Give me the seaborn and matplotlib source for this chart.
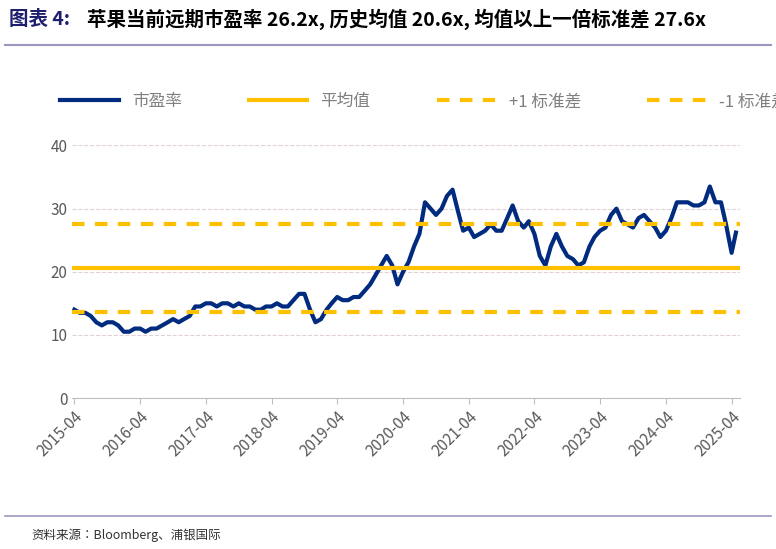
import numpy as np
import pandas as pd
import matplotlib
matplotlib.use('Agg')
import matplotlib.pyplot as plt
from matplotlib import font_manager
import seaborn as sns

# 找一个可用的中文字体
names = {f.name for f in font_manager.fontManager.ttflist}
cjk = [n for n in ['Noto Sans CJK SC', 'Noto Sans CJK JP', 'Noto Sans CJK TC', 'Noto Sans CJK KR'] if n in names]
plt.rcParams['font.family'] = 'sans-serif'
plt.rcParams['font.sans-serif'] = cjk + ['DejaVu Sans']
plt.rcParams['axes.unicode_minus'] = False

# 月度远期市盈率（2015-04 起）
pe_values = [
    14, 13.5, 13.5, 13, 12, 11.5, 12, 12, 11.5,
    10.5, 10.5, 11, 11, 10.5, 11, 11, 11.5, 12, 12.5, 12, 12.5,
    13, 14.5, 14.5, 15, 15, 14.5, 15, 15, 14.5, 15, 14.5, 14.5,
    14, 14, 14.5, 14.5, 15, 14.5, 14.5, 15.5, 16.5, 16.5, 14, 12,
    12.5, 14, 15, 16, 15.5, 15.5, 16, 16, 17, 18, 19.5, 21,
    22.5, 21, 18, 20, 21.5, 24, 26, 31, 30, 29, 30, 32,
    33, 29.5, 26.5, 27, 25.5, 26, 26.5, 27.5, 26.5, 26.5, 28.5, 30.5,
    28, 27, 28, 26, 22.5, 21, 24, 26, 24, 22.5, 22, 21,
    21.5, 24, 25.5, 26.5, 27, 29, 30, 28, 27.5, 27, 28.5, 29,
    28, 27, 25.5, 26.5, 28.5, 31, 31, 31, 30.5, 30.5, 31, 33.5,
    31, 31, 27.5, 23, 26.2,
]
mean_pe = 20.6
plus_std = 27.6
minus_std = 13.6
tick_labels = ['2015-04', '2016-04', '2017-04', '2018-04', '2019-04', '2020-04',
               '2021-04', '2022-04', '2023-04', '2024-04', '2025-04']

dates = list(pd.date_range('2015-04-01', periods=len(pe_values) - 1, freq='MS'))
dates.append(pd.Timestamp('2025-04-25'))
df = pd.DataFrame({'date': dates, 'pe': pe_values})

navy = '#002B7F'
gold = '#FFC000'

fig = plt.figure(figsize=(7.76, 5.49), dpi=100)
ax = fig.add_axes([0.093, 0.275, 0.86, 0.46])

sns.lineplot(data=df, x='date', y='pe', color=navy, linewidth=3, ax=ax, label='市盈率')
ax.axhline(mean_pe, color=gold, linewidth=3, label='平均值')
ax.axhline(plus_std, color=gold, linewidth=3, linestyle=(0, (3, 2.5)), label='+1 标准差')
ax.axhline(minus_std, color=gold, linewidth=3, linestyle=(0, (3, 2.5)), label='-1 标准差')

ax.set_ylim(0, 40)
ax.set_yticks([0, 10, 20, 30, 40])
ax.set_xlim(pd.Timestamp('2015-03-20'), pd.Timestamp('2025-05-15'))
ax.set_xticks([pd.Timestamp(t + '-01') for t in tick_labels])
ax.set_xticklabels(tick_labels, rotation=45, ha='right', rotation_mode='anchor')
ax.tick_params(axis='both', labelsize=11, colors='#595959', length=0)
ax.tick_params(axis='x', length=4, color='#BFBFBF')
ax.grid(axis='y', color='#E0D0D8', linestyle='--', linewidth=0.8)
ax.set_axisbelow(True)
for s in ['top', 'right', 'left']:
    ax.spines[s].set_visible(False)
ax.spines['bottom'].set_color('#BFBFBF')
ax.set_xlabel('')
ax.set_ylabel('')

ax.legend(loc='lower left', bbox_to_anchor=(-0.04, 1.08), ncol=4, frameon=False,
          fontsize=12, handlelength=3.5, columnspacing=4, labelcolor='#7F7F7F')

fig.text(0.012, 0.965, '图表 4:', color='#1F1F6E', fontsize=14, fontweight='bold', va='center')
fig.text(0.112, 0.965, '苹果当前远期市盈率 26.2x, 历史均值 20.6x, 均值以上一倍标准差 27.6x',
         color='black', fontsize=14, fontweight='bold', va='center')
fig.add_artist(plt.Line2D([0.006, 0.994], [0.918, 0.918], color='#9A98BE', linewidth=1.5))
fig.add_artist(plt.Line2D([0.006, 0.994], [0.06, 0.06], color='#9A98BE', linewidth=1.2))
fig.text(0.04, 0.025, '资料来源：Bloomberg、浦银国际', fontsize=9, color='#333333', va='center')

fig.savefig('out.png', dpi=100)
